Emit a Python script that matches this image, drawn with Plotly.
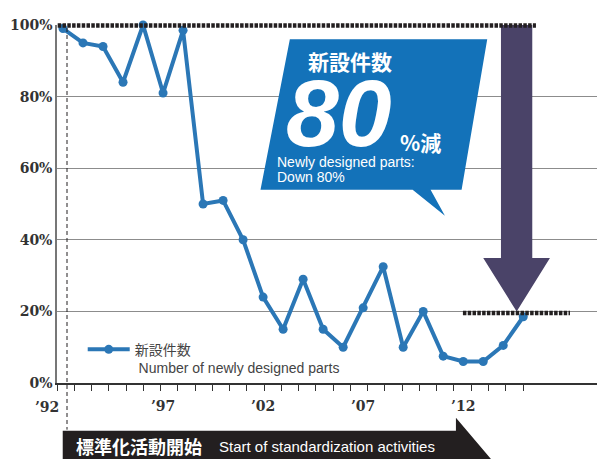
import plotly.graph_objects as go

# data: share of newly designed parts, fiscal 1992 = 100%
YEARS = list(range(1992, 2016))
NEW_PARTS = [99, 95, 94, 84, 100, 81, 98.5, 50, 51, 40, 24, 15,
             29, 15, 10, 21, 32.5, 10, 20, 7.5, 6, 6, 10.5, 18.5]
Y_TICKS = [0, 20, 40, 60, 80, 100]
Y_LABELS = ["0%", "20%", "40%", "60%", "80%", "100%"]
X_TICKS = [1997, 2002, 2007, 2012]
X_LABELS = ["’97", "’02", "’07", "’12"]

W, H = 605, 459
PAGE = 8  # default body margin of the html page
# plot area in figure pixels
L, R, T, B = 57.3 - PAGE, 605, 25 - PAGE, 383.3 - PAGE
BLUE = "#2b77b6"
BOX_BLUE = "#1372b9"
PURPLE = "#4a4368"
INK = "#231f20"
SERIF = "DejaVu Serif"
SANS = "Liberation Sans"
CJK = "Noto Sans CJK JP"

# year <-> screen pixel: 1992 sits at x=63.3, 20px per year
X0_PX, PX_PER_YEAR = 63.3 - PAGE, 20.0
x_range = [1992 + (L - X0_PX) / PX_PER_YEAR, 1992 + (R - X0_PX) / PX_PER_YEAR]
minor_ticks = [1992 + (57.3 + 17.25 * k - 63.3) / PX_PER_YEAR for k in range(28)]


# helpers take screen pixels and give paper coordinates
def px(p):
    return (p - PAGE - L) / (R - L)


def py(p):
    return (B - (p - PAGE)) / (B - T)


def path(points):
    d = "M" + " L".join(f"{px(a):.4f},{py(b):.4f}" for a, b in points)
    return d + " Z"


fig = go.Figure()
fig.add_trace(go.Scatter(
    x=YEARS,
    y=NEW_PARTS,
    mode="lines+markers",
    name="新設件数<br><span style='font-size:14px;font-family:Liberation Sans'>"
         " Number of newly designed parts</span>",
    line=dict(color=BLUE, width=4),
    marker=dict(color=BLUE, size=9),
    cliponaxis=False,
))

shapes = [
    # callout box with tail
    dict(type="path", xref="paper", yref="paper", fillcolor=BOX_BLUE, line_width=0,
         path=path([(290, 39.3), (487.3, 39.3), (461.7, 190), (430.7, 190),
                    (445, 216), (412.7, 190), (260.7, 190)])),
    # down arrow
    dict(type="path", xref="paper", yref="paper", fillcolor=PURPLE, line_width=0,
         path=path([(501, 25), (532.3, 25), (532.3, 258.3), (550, 258.3),
                    (516.7, 311.7), (483.3, 258.3), (501, 258.3)])),
    # dashed reference lines
    dict(type="line", xref="paper", yref="paper", x0=px(58), x1=px(536),
         y0=py(25.5), y1=py(25.5), line=dict(color=INK, width=4.5, dash="3.5px,1.3px")),
    dict(type="line", xref="paper", yref="paper", x0=px(463), x1=px(570),
         y0=py(313.3), y1=py(313.3), line=dict(color=INK, width=4.5, dash="3.5px,1.3px")),
    # start of standardization
    dict(type="line", xref="paper", yref="paper", x0=px(67.3), x1=px(67.3),
         y0=py(28), y1=py(430), line=dict(color=INK, width=1, dash="4px,3px")),
    dict(type="path", xref="paper", yref="paper", fillcolor=INK, line_width=0,
         path=path([(63, 431), (456, 431), (456, 418), (500, 470), (63, 470)])),
]

annotations = [
    dict(text="’92", x=px(47), y=py(407)),
    dict(text="新設件数", x=px(350), y=py(61),
         font=dict(family=CJK, size=21, color="white", weight="bold")),
    dict(text="80", x=px(339), y=py(113),
         font=dict(family=SANS, size=95, color="white", weight="bold", style="italic")),
    dict(text="%減", x=px(398), y=py(142), xanchor="left",
         font=dict(family=CJK, size=21, color="white", weight="bold")),
    dict(text="Newly designed parts:", x=px(275), y=py(162), xanchor="left",
         font=dict(family=SANS, size=14, color="white")),
    dict(text="Down 80%", x=px(275), y=py(177), xanchor="left",
         font=dict(family=SANS, size=14, color="white")),
    dict(text="標準化活動開始", x=px(74), y=py(446), xanchor="left",
         font=dict(family=CJK, size=18, color="white", weight="bold")),
    dict(text="Start of standardization activities", x=px(217), y=py(447),
         xanchor="left", font=dict(family=SANS, size=15, color="white")),
]
for a in annotations:
    a.setdefault("xref", "paper")
    a.setdefault("yref", "paper")
    a.setdefault("xanchor", "center")
    a.setdefault("yanchor", "middle")
    a.setdefault("showarrow", False)
    a.setdefault("font", dict(family=SERIF, size=14, color="#333", weight="bold"))
    fig.add_annotation(**a)

fig.update_layout(
    width=W,
    height=H,
    margin=dict(l=L, r=W - R, t=T, b=H - B, pad=0),
    paper_bgcolor="white",
    plot_bgcolor="white",
    shapes=shapes,
    showlegend=True,
    legend=dict(
        x=px(83), y=py(334), xanchor="left", yanchor="top",
        bgcolor="rgba(0,0,0,0)", valign="top", tracegroupgap=0, itemwidth=42,
        font=dict(family=CJK, size=14, color="#444"),
    ),
    xaxis=dict(
        range=x_range,
        showgrid=False,
        zeroline=False,
        showline=True,
        linecolor="#333",
        linewidth=1.5,
        tickvals=X_TICKS,
        ticktext=X_LABELS,
        ticks="",
        ticklabelstandoff=9,
        tickfont=dict(family=SERIF, size=14, color="#333", weight="bold"),
        minor=dict(tickmode="array", tickvals=minor_ticks, ticks="outside",
                   ticklen=6, tickwidth=1, tickcolor="#333", showgrid=False),
    ),
    yaxis=dict(
        range=[0, 100],
        tickvals=Y_TICKS,
        ticktext=Y_LABELS,
        ticks="",
        showgrid=True,
        gridcolor="#8c8c8c",
        gridwidth=1,
        zeroline=False,
        showline=True,
        linecolor="#777",
        linewidth=1.5,
        ticklabelstandoff=0,
        tickfont=dict(family=SERIF, size=14, color="#333", weight="bold"),
    ),
)

fig.write_html("out.html")
